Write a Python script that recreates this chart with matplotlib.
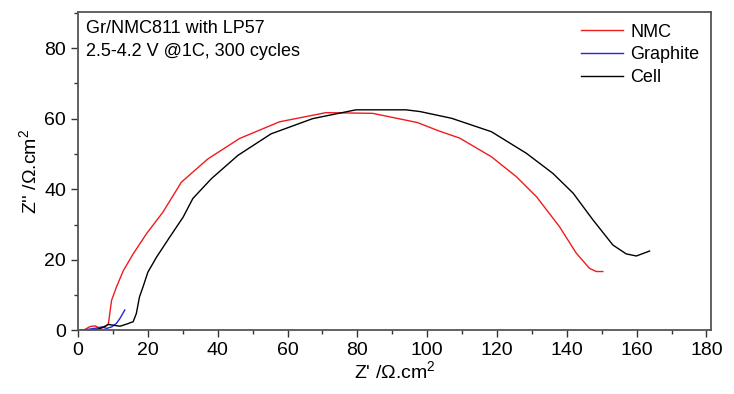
import matplotlib
matplotlib.use("Agg")
import matplotlib.pyplot as plt
from matplotlib.ticker import MultipleLocator

plt.rcParams['font.family'] = ['Liberation Sans', 'DejaVu Sans']
plt.rcParams['mathtext.fontset'] = 'custom'
plt.rcParams['mathtext.rm'] = 'Liberation Sans'
plt.rcParams['mathtext.it'] = 'Liberation Sans'

# Nyquist data (Z' , Z'' in Ohm.cm2)
nmc_x = [0.6, 2.0, 3.4, 4.9, 6.3, 7.7, 8.7, 9.6, 11.0, 13.0, 15.8, 19.6, 24.3, 29.6,
         37.2, 46.3, 57.7, 71.0, 84.4, 97.2, 103.4, 109.3, 118.4, 125.5, 131.3,
         137.9, 142.7, 146.5, 148.4, 150.3]
nmc_y = [0.0, 0.3, 1.1, 1.3, 0.6, 1.0, 1.9, 8.5, 12.3, 17.0, 21.7, 27.4, 33.5, 42.0,
         48.6, 54.4, 59.1, 61.7, 61.5, 58.9, 56.5, 54.5, 49.2, 43.6, 37.9,
         29.4, 21.9, 17.6, 16.7, 16.7]

gr_x = [0.6, 3.4, 5.3, 6.8, 8.2, 9.6, 11.0, 12.0, 13.4]
gr_y = [0.0, 0.4, 0.7, 1.0, 0.6, 1.0, 2.0, 3.4, 5.8]

cell_x = [3.4, 5.8, 7.3, 8.7, 10.1, 12.0, 13.9, 15.8, 16.7, 17.6, 18.6, 20.0, 22.5,
          26.3, 30.1, 32.9, 38.2, 45.8, 55.3, 67.2, 79.6, 93.9, 98.0, 107.0, 118.4,
          128.4, 136.0, 141.8, 147.5, 153.2, 157.0, 159.9, 163.7]
cell_y = [0.0, 0.4, 1.0, 1.7, 1.5, 1.2, 1.8, 2.5, 4.8, 9.5, 12.3, 16.5, 20.8,
          26.5, 32.1, 37.4, 43.0, 49.6, 55.7, 60.0, 62.5, 62.5, 62.0, 60.1, 56.3,
          50.2, 44.5, 38.9, 31.3, 24.2, 21.7, 21.1, 22.5]

fig = plt.figure(figsize=(7.34, 3.94), dpi=100)
ax = fig.add_axes([0.1063, 0.1612, 0.8624, 0.8083])

ax.plot(nmc_x, nmc_y, color="#ee1c1c", lw=1.0, label="NMC")
ax.plot(gr_x, gr_y, color="#2525dd", lw=1.0, label="Graphite")
ax.plot(cell_x, cell_y, color="black", lw=1.0, label="Cell")

ax.set_xlim(0, 181.3)
ax.set_ylim(0, 90.2)
ax.xaxis.set_major_locator(MultipleLocator(20))
ax.xaxis.set_minor_locator(MultipleLocator(10))
ax.yaxis.set_major_locator(MultipleLocator(20))
ax.yaxis.set_minor_locator(MultipleLocator(10))
ax.tick_params(which="major", direction="out", length=5, width=1, labelsize=14, colors="#333333")
ax.tick_params(which="minor", direction="out", length=3, width=1, colors="#333333")
ax.tick_params(labelcolor="black")
for s in ax.spines.values():
	s.set_linewidth(1.3)
	s.set_color("#555555")

ax.set_xlabel("Z' /Ω.cm$^2$", fontsize=14, labelpad=1)
ax.set_ylabel("Z'' /Ω.cm$^2$", fontsize=14, labelpad=3)

ax.text(0.013, 0.975, "Gr/NMC811 with LP57\n2.5-4.2 V @1C, 300 cycles",
	transform=ax.transAxes, ha="left", va="top", fontsize=13, linespacing=1.5)

ax.legend(loc="upper right", frameon=False, fontsize=13, handlelength=2.3,
	handletextpad=0.4, labelspacing=0.31, borderaxespad=0.25)

fig.savefig("out.png", dpi=100)
